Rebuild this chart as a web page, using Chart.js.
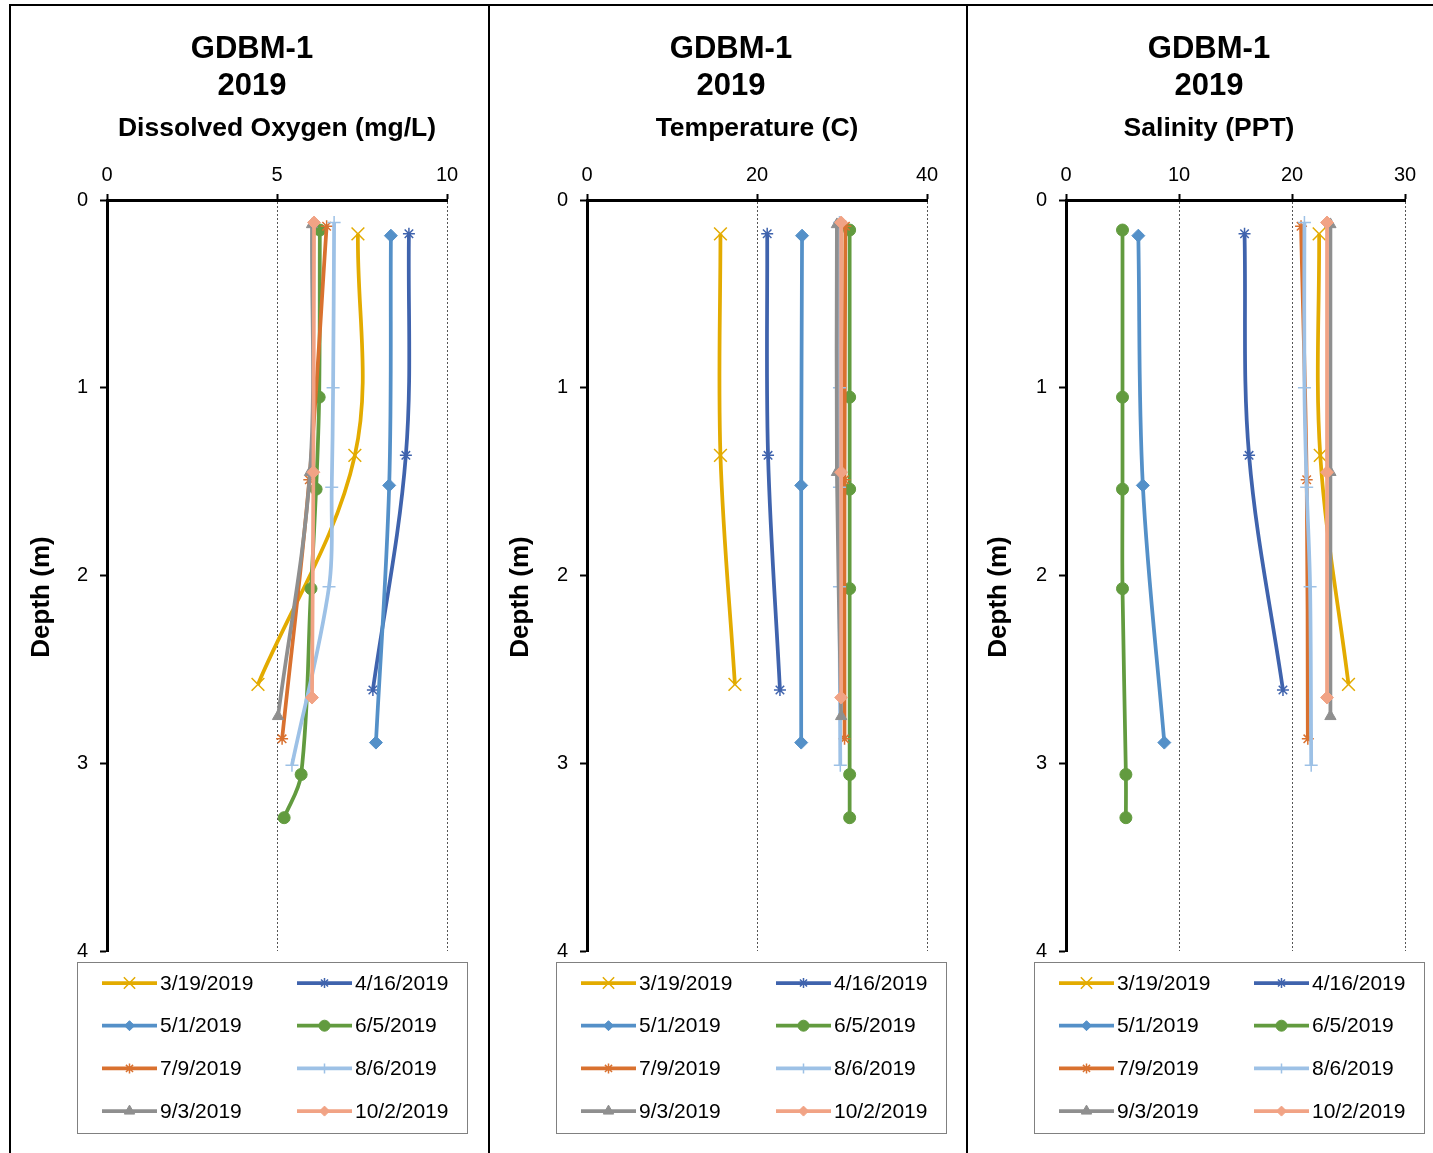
<!DOCTYPE html>
<html>
<head>
<meta charset="utf-8">
<title>GDBM-1 2019 profiles</title>
<script src="https://cdn.jsdelivr.net/npm/chart.js@4.4.1/dist/chart.umd.min.js"></script>
<style>
  html, body { margin: 0; padding: 0; background: #fff; }
  #page { position: relative; width: 1433px; height: 1153px; overflow: hidden; background: #fff; }
  .panel { position: absolute; top: 4px; width: 481px; height: 1160px; border: 2px solid #000; box-sizing: border-box; background: #fff; }
  .panel canvas { display: block; }
</style>
</head>
<body>
<div id="page">
  <div class="panel" style="left:9px"><canvas id="chartDO" width="477" height="1156"></canvas></div>
  <div class="panel" style="left:488px"><canvas id="chartTemp" width="477" height="1156"></canvas></div>
  <div class="panel" style="left:966px"><canvas id="chartSal" width="477" height="1156"></canvas></div>
</div>
<script>
// Sampling dates (one profile per date)
const dates = ['3/19/2019', '4/16/2019', '5/1/2019', '6/5/2019', '7/9/2019', '8/6/2019', '9/3/2019', '10/2/2019'];

// Sample depths (m) for each profile
const depthMar = [0.18, 1.36, 2.58];
const depthApr = [0.18, 1.36, 2.61];
const depthMay = [0.19, 1.52, 2.89];
const depthJun = [0.16, 1.05, 1.54, 2.07, 3.06, 3.29];
const depthJul = [0.14, 1.49, 2.87];
const depthAug = [0.12, 1.00, 1.53, 2.06, 3.01];
const depthSep = [0.13, 1.45, 2.75];
const depthOct = [0.12, 1.45, 2.65];

// Dissolved oxygen (mg/L)
const doMar = [7.38, 7.29, 4.44];
const doApr = [8.88, 8.79, 7.82];
const doMay = [8.35, 8.30, 7.91];
const doJun = [6.26, 6.24, 6.15, 6.00, 5.71, 5.21];
const doJul = [6.46, 5.95, 5.15];
const doAug = [6.68, 6.65, 6.61, 6.53, 5.44];
const doSep = [6.03, 5.97, 5.03];
const doOct = [6.09, 6.07, 6.03];

// Temperature (C)
const tempMar = [15.7, 15.7, 17.4];
const tempApr = [21.2, 21.3, 22.7];
const tempMay = [25.3, 25.2, 25.2];
const tempJun = [30.9, 30.9, 30.9, 30.9, 30.9, 30.9];
const tempJul = [30.4, 30.3, 30.3];
const tempAug = [29.7, 29.7, 29.7, 29.7, 29.8];
const tempSep = [29.4, 29.4, 29.9];
const tempOct = [29.9, 29.9, 29.9];

// Salinity (PPT)
const salMar = [22.4, 22.5, 25.0];
const salApr = [15.8, 16.2, 19.2];
const salMay = [6.4, 6.8, 8.7];
const salJun = [5.0, 5.0, 5.0, 5.0, 5.3, 5.3];
const salJul = [20.8, 21.3, 21.4];
const salAug = [21.1, 21.1, 21.3, 21.6, 21.7];
const salSep = [23.4, 23.4, 23.4];
const salOct = [23.1, 23.1, 23.1];

// Axis ticks
const depthTicks = [0, 1, 2, 3, 4];
const doTicks = [0, 5, 10];
const tempTicks = [0, 20, 40];
const salTicks = [0, 10, 20, 30];

const titleLines = ['GDBM-1', '2019'];
const depthTitle = 'Depth (m)';

const depthSets = [depthMar, depthApr, depthMay, depthJun, depthJul, depthAug, depthSep, depthOct];

// Series appearance
const seriesColors = ['#E3AB00', '#3F63AD', '#5490C8', '#629B3F', '#D9712F', '#9DC1E6', '#8F8F8F', '#F1A385'];
const markerStyles = ['crossRot', 'star', 'rectRot', 'circle', 'star', 'cross', 'triangle', 'rectRot'];
const markerRadius = [9, 6, 6.5, 6, 6, 6.5, 6.5, 6.5];
const legendRadius = [8, 5, 5, 5.5, 5, 5, 6, 5];
const markerLine = [1.5, 1.5, 1, 1, 1.5, 1.5, 1, 1];
const LINE_W = 3.75;

const FONT = "'Liberation Sans', Arial, Helvetica, sans-serif";
Chart.defaults.font.family = FONT;
Chart.defaults.color = '#000';

// Boxed two-column legend and the depth axis title, drawn under the plot
const boxLegend = {
  id: 'boxLegend',
  afterDraw(chart) {
    const ctx = chart.ctx;
    const draw = Chart.helpers && Chart.helpers.drawPoint;
    ctx.save();
    ctx.strokeStyle = '#808080';
    ctx.lineWidth = 1;
    ctx.strokeRect(66.5, 956.5, 390, 171);
    ctx.font = '21px ' + FONT;
    ctx.textBaseline = 'middle';
    ctx.textAlign = 'left';
    dates.forEach((label, i) => {
      const col = i % 2;
      const row = Math.floor(i / 2);
      const y = 977 + row * 42.7;
      const x0 = col ? 286 : 91;
      const x1 = x0 + 55;
      const c = seriesColors[i];
      ctx.strokeStyle = c;
      ctx.fillStyle = c;
      ctx.lineWidth = LINE_W;
      ctx.beginPath();
      ctx.moveTo(x0, y);
      ctx.lineTo(x1, y);
      ctx.stroke();
      if (draw) {
        ctx.lineWidth = markerLine[i];
        draw(ctx, { pointStyle: markerStyles[i], rotation: 0, radius: legendRadius[i], borderWidth: markerLine[i] }, (x0 + x1) / 2, y);
      }
      ctx.fillStyle = '#000';
      ctx.fillText(label, x1 + 3, y + 1);
    });
    // depth axis title
    ctx.save();
    ctx.translate(31, 591);
    ctx.rotate(-Math.PI / 2);
    ctx.font = 'bold 26px ' + FONT;
    ctx.textAlign = 'center';
    ctx.fillStyle = '#000';
    ctx.fillText(depthTitle, 0, 0);
    ctx.restore();
    ctx.restore();
  }
};

function buildPanel(canvasId, subtitle, valueSets, ticks, padLeft, axisWidth, padRight, subtitleFull) {
  const n = valueSets.length;
  const datasets = valueSets.map((vals, i) => ({
    label: dates[i],
    data: depthSets[i].map((d, k) => ({ x: vals[k], y: d })),
    showLine: true,
    tension: 0.35,
    borderWidth: LINE_W,
    borderColor: seriesColors[i],
    backgroundColor: seriesColors[i],
    pointStyle: markerStyles[i],
    pointRadius: markerRadius[i],
    pointBorderWidth: markerLine[i],
    pointBackgroundColor: seriesColors[i],
    pointBorderColor: seriesColors[i],
    pointHoverRadius: markerRadius[i],
    order: n - 1 - i,
    clip: false
  }));

  return new Chart(document.getElementById(canvasId), {
    type: 'scatter',
    data: { datasets },
    options: {
      responsive: false,
      animation: false,
      devicePixelRatio: 1,
      events: [],
      layout: { padding: { left: padLeft, right: padRight, top: 0, bottom: 211 } },
      plugins: {
        legend: { display: false },
        tooltip: { enabled: false },
        title: {
          display: true,
          text: titleLines,
          color: '#000',
          font: { family: FONT, size: 31, weight: 'bold', lineHeight: 1.2 },
          padding: { top: 25, bottom: 7 }
        },
        subtitle: {
          display: true,
          text: subtitle,
          color: '#000',
          fullSize: subtitleFull,
          font: { family: FONT, size: 26.5, weight: 'bold', lineHeight: 1.2 },
          padding: { top: 0, bottom: 0 }
        }
      },
      scales: {
        x: {
          type: 'linear',
          position: 'top',
          min: ticks[0],
          max: ticks[ticks.length - 1],
          afterBuildTicks: s => { s.ticks = ticks.map(v => ({ value: v })); },
          afterFit: s => { s.height = 55.8; },
          ticks: { color: '#000', font: { family: FONT, size: 20 }, padding: 7, maxRotation: 0 },
          grid: { display: true, drawOnChartArea: true, drawTicks: true, color: '#555', lineWidth: 1, tickLength: 6, tickColor: '#000', tickWidth: 2 },
          border: { display: true, color: '#000', width: 3, dash: [2, 2] }
        },
        y: {
          type: 'linear',
          reverse: true,
          min: depthTicks[0],
          max: depthTicks[depthTicks.length - 1],
          afterBuildTicks: s => { s.ticks = depthTicks.map(v => ({ value: v })); },
          afterFit: s => { s.width = axisWidth; },
          ticks: { color: '#000', font: { family: FONT, size: 20 }, padding: 12 },
          grid: { display: true, drawOnChartArea: false, drawTicks: true, tickLength: 7, tickColor: '#000', tickWidth: 2 },
          border: { display: true, color: '#000', width: 3 }
        }
      }
    },
    plugins: [boxLegend]
  });
}

buildPanel('chartDO', 'Dissolved Oxygen (mg/L)',
  [doMar, doApr, doMay, doJun, doJul, doAug, doSep, doOct], doTicks, 46, 50, 41, false);
buildPanel('chartTemp', 'Temperature (C)',
  [tempMar, tempApr, tempMay, tempJun, tempJul, tempAug, tempSep, tempOct], tempTicks, 45, 52, 40, false);
buildPanel('chartSal', 'Salinity (PPT)',
  [salMar, salApr, salMay, salJun, salJul, salAug, salSep, salOct], salTicks, 45, 53, 40, true);
</script>
</body>
</html>
